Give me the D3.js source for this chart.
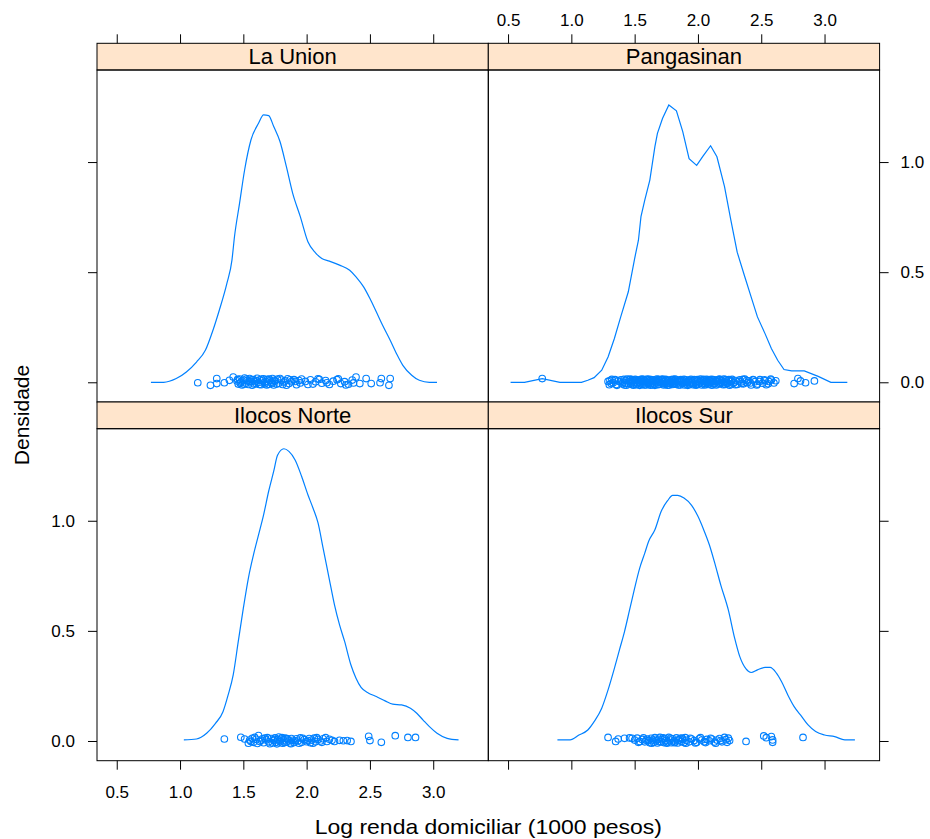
<!DOCTYPE html>
<html>
<head>
<meta charset="utf-8">
<script src="https://cdn.jsdelivr.net/npm/d3@7"></script>
<style>
body{margin:0;background:#fff;}
text{font-family:"Liberation Sans",Arial,sans-serif;fill:#000;}
</style>
</head>
<body>
<script>
// panel names, lattice order (top-left, top-right, bottom-left, bottom-right)
const panelNames=["La Union","Pangasinan","Ilocos Norte","Ilocos Sur"];
const xTicks=[0.5,1.0,1.5,2.0,2.5,3.0];
const yTicks=[0.0,0.5,1.0];

// density curves: [log income, density]
const laUnionDens=[[0.77,0.0],[0.87,0.0],[0.97,0.017],[1.05,0.047],[1.13,0.092],[1.20,0.145],[1.26,0.236],[1.31,0.327],[1.37,0.449],[1.41,0.555],[1.43,0.661],[1.47,0.812],[1.51,0.964],[1.56,1.100],[1.62,1.176],[1.66,1.214],[1.70,1.211],[1.74,1.161],[1.79,1.092],[1.84,0.979],[1.89,0.858],[1.95,0.752],[2.01,0.638],[2.07,0.588],[2.12,0.562],[2.18,0.550],[2.26,0.532],[2.34,0.509],[2.39,0.479],[2.45,0.433],[2.50,0.380],[2.55,0.320],[2.60,0.259],[2.66,0.191],[2.71,0.130],[2.76,0.077],[2.83,0.032],[2.89,0.009],[2.97,0.0],[3.03,0.0]];
const pangasinanDens=[[0.52,0.0],[0.63,0.0],[0.77,0.017],[0.91,0.0],[1.08,0.0],[1.13,0.009],[1.18,0.021],[1.24,0.055],[1.29,0.115],[1.34,0.199],[1.39,0.297],[1.45,0.411],[1.50,0.562],[1.53,0.645],[1.55,0.752],[1.58,0.827],[1.62,0.918],[1.66,1.070],[1.68,1.130],[1.72,1.198],[1.77,1.259],[1.83,1.233],[1.88,1.138],[1.93,1.015],[1.99,0.985],[2.04,1.027],[2.10,1.074],[2.15,1.024],[2.21,0.888],[2.26,0.736],[2.31,0.591],[2.37,0.479],[2.42,0.388],[2.47,0.297],[2.53,0.221],[2.58,0.153],[2.63,0.100],[2.68,0.058],[2.74,0.052],[2.84,0.052],[2.95,0.027],[3.05,0.0],[3.18,0.0]];
const ilocosNorteDens=[[1.03,0.005],[1.13,0.009],[1.21,0.035],[1.28,0.080],[1.34,0.134],[1.38,0.209],[1.42,0.300],[1.46,0.452],[1.50,0.603],[1.54,0.740],[1.58,0.845],[1.62,0.936],[1.66,1.027],[1.70,1.134],[1.74,1.225],[1.77,1.297],[1.82,1.327],[1.86,1.315],[1.91,1.275],[1.96,1.202],[2.01,1.118],[2.05,1.058],[2.09,0.990],[2.13,0.876],[2.18,0.732],[2.22,0.618],[2.26,0.527],[2.30,0.452],[2.35,0.345],[2.39,0.285],[2.43,0.243],[2.49,0.217],[2.55,0.202],[2.62,0.182],[2.68,0.167],[2.75,0.164],[2.82,0.149],[2.87,0.126],[2.92,0.095],[2.97,0.065],[3.03,0.035],[3.11,0.012],[3.20,0.005]];
const ilocosSurDens=[[0.89,0.005],[0.99,0.005],[1.06,0.027],[1.13,0.050],[1.18,0.088],[1.24,0.149],[1.29,0.232],[1.34,0.330],[1.38,0.414],[1.42,0.497],[1.46,0.595],[1.50,0.694],[1.54,0.785],[1.58,0.853],[1.61,0.906],[1.66,0.959],[1.71,1.043],[1.76,1.091],[1.80,1.115],[1.84,1.115],[1.89,1.103],[1.95,1.070],[2.00,1.020],[2.04,0.967],[2.09,0.891],[2.14,0.793],[2.18,0.709],[2.24,0.595],[2.29,0.467],[2.33,0.384],[2.38,0.327],[2.42,0.311],[2.47,0.323],[2.53,0.334],[2.57,0.334],[2.62,0.308],[2.66,0.270],[2.71,0.209],[2.76,0.156],[2.82,0.111],[2.87,0.073],[2.93,0.043],[3.00,0.027],[3.08,0.020],[3.16,0.005],[3.24,0.005]];

// observed households: [log income, vertical jitter]
const laUnionPts=[[1.14,-0.002],[1.24,-0.014],[1.29,-0.006],[1.29,0.017],[1.35,-0.002],[1.39,0.009],[1.42,0.024],
[1.45,0.006],[1.46,-0.008],[1.47,0.015],[1.48,0.001],[1.49,-0.012],[1.50,0.010],[1.51,0.019],[1.52,-0.004],[1.53,0.008],[1.54,-0.010],[1.55,0.017],[1.56,0.002],[1.57,-0.013],[1.58,0.012],[1.59,0.004],[1.60,-0.006],[1.61,0.018],[1.62,-0.001],[1.63,0.011],[1.64,-0.011],[1.65,0.007],[1.66,0.016],[1.67,-0.007],[1.68,0.003],[1.69,0.013],[1.70,-0.009],[1.71,0.009],[1.72,0.000],[1.73,0.017],[1.74,-0.012],[1.75,0.005],[1.77,0.014],[1.78,-0.004],[1.80,0.010],[1.81,-0.010],[1.83,0.006],[1.85,0.016],[1.86,-0.006],[1.88,0.003],[1.90,0.012],[1.92,-0.011],[1.94,0.008],[1.95,-0.003],
[1.99,0.004],[2.03,0.011],[2.05,-0.008],[2.07,0.002],[2.10,0.013],[2.12,-0.004],[2.15,0.008],[2.18,-0.010],[2.21,0.005],[2.24,0.012],[2.27,-0.006],[2.30,0.003],[2.33,-0.009],[2.36,0.010],
[2.39,0.024],[2.42,-0.006],[2.47,0.017],[2.51,-0.006],[2.58,-0.002],[2.59,0.017],[2.65,-0.014],[2.66,0.017],
[1.455,0.013],[1.475,-0.004],[1.505,-0.009],[1.525,0.015],[1.545,0.004],[1.565,0.011],[1.585,-0.008],[1.605,0.007],[1.625,-0.010],[1.645,0.014],
[1.665,0.000],[1.685,-0.012],[1.705,0.015],[1.725,-0.005],[1.745,0.009],[1.765,-0.008],[1.79,0.017],[1.82,0.001],[1.84,-0.013],[1.87,0.011],
[1.91,0.004],[1.96,0.015],[2.01,-0.010],[2.09,0.016],[2.16,-0.002],[2.25,0.016],[2.31,-0.012],[2.37,-0.003]];
const pangasinanPts=[[0.77,0.017],
[1.29,0.004],[1.30,-0.011],[1.32,0.013],[1.33,-0.002],[1.35,0.009],[1.36,-0.014],[1.37,0.006],[1.39,0.011],[1.40,-0.007],[1.41,0.001],
[1.42,-0.012],[1.43,0.008],[1.44,0.014],[1.45,-0.005],[1.46,0.003],[1.47,-0.009],[1.48,0.012],[1.49,-0.013],[1.50,0.007],[1.50,-0.001],
[1.51,0.010],[1.52,-0.006],[1.53,0.002],[1.54,-0.014],[1.54,0.011],[1.55,0.005],[1.56,-0.010],[1.57,0.013],[1.57,-0.003],[1.58,0.008],
[1.59,-0.012],[1.60,0.000],[1.60,0.014],[1.61,-0.008],[1.62,0.006],[1.63,-0.004],[1.63,0.012],[1.64,-0.011],[1.65,0.003],[1.66,0.009],
[1.66,-0.014],[1.67,0.007],[1.68,-0.002],[1.69,0.013],[1.69,-0.009],[1.70,0.001],[1.71,0.010],[1.72,-0.006],[1.72,0.015],[1.73,-0.012],
[1.74,0.004],[1.75,-0.001],[1.75,0.011],[1.76,-0.013],[1.77,0.008],[1.78,-0.005],[1.78,0.002],[1.79,0.012],[1.80,-0.010],[1.81,0.006],
[1.81,-0.003],[1.82,0.014],[1.83,-0.008],[1.84,0.001],[1.85,0.009],[1.86,-0.012],[1.87,0.005],[1.88,-0.002],[1.89,0.013],[1.90,-0.007],
[1.91,0.003],[1.92,-0.014],[1.93,0.010],[1.94,-0.004],[1.95,0.007],[1.96,-0.011],[1.97,0.012],[1.98,0.000],[1.99,-0.009],[2.00,0.006],
[2.01,-0.003],[2.02,0.014],[2.03,-0.012],[2.04,0.004],[2.05,0.011],[2.06,-0.006],[2.06,0.001],[2.07,0.013],[2.08,-0.010],[2.09,0.008],
[2.09,-0.002],[2.10,0.005],[2.11,-0.013],[2.12,0.012],[2.13,-0.005],[2.14,0.003],[2.15,0.010],[2.16,-0.008],[2.17,0.014],[2.18,-0.001],
[2.19,0.007],[2.20,-0.011],[2.21,0.002],[2.22,0.012],[2.23,-0.006],[2.24,0.009],[2.25,-0.013],[2.26,0.004],[2.27,0.013],[2.28,-0.004],
[2.30,0.008],[2.31,-0.010],[2.33,0.011],[2.34,0.001],[2.36,-0.007],[2.37,0.014],[2.39,-0.002],[2.40,0.006],[2.42,-0.012],[2.44,0.010],
[2.45,0.003],[2.47,-0.008],[2.49,0.012],[2.51,-0.004],[2.53,0.007],[2.54,-0.011],[2.56,0.004],[2.58,0.010],[2.60,-0.003],
[2.76,-0.006],[2.79,0.017],[2.81,0.006],[2.85,-0.002],[2.92,0.006],
[1.305,0.008],[1.315,-0.006],[1.345,0.012],[1.355,-0.010],[1.385,0.002],[1.415,0.013],[1.425,-0.004],[1.435,-0.013],[1.455,0.010],[1.465,0.014],
[1.475,-0.002],[1.485,0.006],[1.495,-0.008],[1.505,0.013],[1.515,-0.011],[1.525,0.009],[1.535,0.000],[1.545,-0.006],[1.555,0.014],[1.565,0.004],
[1.575,-0.012],[1.585,0.001],[1.595,0.010],[1.605,-0.004],[1.615,0.013],[1.625,-0.013],[1.635,0.003],[1.645,0.011],[1.655,-0.007],[1.665,0.002],
[1.675,0.014],[1.685,-0.011],[1.695,0.006],[1.705,-0.003],[1.715,0.012],[1.725,0.002],[1.735,-0.008],[1.745,0.013],[1.755,-0.005],[1.765,0.009],
[1.775,-0.012],[1.785,0.005],[1.795,-0.001],[1.805,0.013],[1.815,-0.008],[1.825,0.002],[1.835,0.010],[1.845,-0.012],[1.855,0.004],[1.865,0.012],
[1.875,-0.006],[1.885,0.008],[1.895,-0.012],[1.905,0.011],[1.915,-0.002],[1.925,0.006],[1.935,-0.010],[1.945,0.013],[1.955,0.001],[1.965,-0.006],
[1.975,0.009],[1.985,-0.013],[1.995,0.012],[2.005,-0.008],[2.015,0.003],[2.025,0.009],[2.035,-0.005],[2.045,0.013],[2.055,-0.012],[2.065,0.006],
[2.075,-0.002],[2.085,0.011],[2.095,-0.007],[2.105,0.013],[2.115,0.002],[2.125,-0.009],[2.135,0.010],[2.145,-0.012],[2.155,0.004],[2.165,0.012],
[2.175,-0.006],[2.185,0.009],[2.195,-0.003],[2.205,0.014],[2.215,-0.010],[2.225,0.005],[2.235,-0.002],[2.245,0.012],[2.255,-0.008],[2.265,0.008],
[2.285,0.000],[2.295,-0.011],[2.325,0.004],[2.345,-0.006],[2.355,0.013],[2.385,0.008],[2.415,-0.003],[2.435,0.012],[2.465,-0.012],[2.485,0.004],
[2.525,0.011],[2.555,-0.007],[2.575,0.014],[2.615,0.007]];
const ilocosNortePts=[[1.35,0.009],[1.48,0.017],[1.51,0.009],[1.54,-0.010],[1.55,0.004],[1.57,0.012],[1.58,-0.006],[1.60,0.008],[1.62,0.025],[1.63,-0.002],
[1.65,0.010],[1.66,-0.008],[1.68,0.005],[1.69,0.015],[1.70,-0.004],[1.72,0.011],[1.73,-0.009],[1.74,0.002],[1.75,0.014],[1.76,-0.006],
[1.77,0.007],[1.78,0.018],[1.79,-0.003],[1.80,0.009],[1.81,-0.010],[1.82,0.004],[1.83,0.013],[1.84,-0.005],[1.85,0.008],[1.86,0.001],
[1.87,-0.009],[1.88,0.011],[1.89,0.003],[1.90,-0.007],[1.92,0.010],[1.93,0.000],[1.95,0.014],[1.96,-0.006],[1.98,0.006],[2.00,-0.003],
[2.02,0.011],[2.03,-0.008],[2.04,0.004],[2.06,0.013],[2.07,-0.004],[2.09,0.007],[2.11,0.000],[2.13,0.010],[2.15,0.015],[2.16,-0.002],
[2.18,0.008],[2.20,0.003],[2.22,-0.002],[2.26,0.003],[2.29,0.001],[2.32,0.002],[2.35,-0.002],[2.49,0.021],[2.50,0.002],[2.59,-0.006],
[2.70,0.024],[2.80,0.016],[2.86,0.016],
[1.56,-0.002],[1.59,0.016],[1.61,-0.011],[1.64,0.003],[1.67,0.013],[1.71,-0.012],[1.745,0.007],[1.765,-0.013],[1.785,0.003],[1.805,0.015],
[1.825,-0.007],[1.845,0.011],[1.875,-0.012],[1.91,0.001],[1.94,-0.010],[1.97,0.012],[2.01,0.002],[2.05,-0.010],[2.08,0.015],[2.12,-0.006]];
const ilocosSurPts=[[1.29,0.016],[1.35,-0.002],[1.37,0.009],[1.42,0.012],[1.46,0.014],[1.48,0.012],[1.50,0.004],[1.52,0.013],[1.54,-0.002],[1.56,0.007],
[1.57,0.014],[1.58,-0.004],[1.60,0.009],[1.61,0.002],[1.62,-0.008],[1.63,0.012],[1.64,0.004],[1.65,-0.006],[1.66,0.015],[1.67,0.001],
[1.68,-0.009],[1.69,0.008],[1.70,0.016],[1.71,-0.003],[1.72,0.006],[1.73,-0.007],[1.74,0.011],[1.75,0.002],[1.76,-0.005],[1.77,0.016],
[1.78,0.004],[1.79,-0.008],[1.80,0.010],[1.81,0.001],[1.82,-0.004],[1.83,0.014],[1.84,-0.009],[1.85,0.006],[1.86,0.012],[1.87,-0.002],
[1.88,0.008],[1.89,-0.007],[1.90,0.015],[1.91,0.003],[1.93,-0.004],[1.95,0.009],[1.97,0.002],[1.99,-0.006],[2.01,0.010],[2.03,0.004],
[2.05,-0.003],[2.07,0.007],[2.09,0.001],[2.11,0.009],[2.13,-0.005],[2.15,0.004],[2.17,0.011],[2.19,-0.004],[2.21,0.016],[2.22,0.006],
[2.23,-0.006],[2.25,0.002],[2.38,-0.002],[2.52,0.023],[2.54,0.015],[2.58,0.020],[2.59,0.005],[2.59,-0.006],[2.83,0.016],
[1.53,-0.006],[1.59,0.003],[1.635,-0.010],[1.665,0.008],[1.695,-0.004],[1.725,0.014],[1.755,-0.010],[1.785,0.012],[1.815,-0.008],[1.845,0.003],
[1.875,0.013],[1.905,-0.010],[1.94,0.012],[1.98,-0.009],[2.02,0.015],[2.06,-0.007],[2.10,0.012],[2.14,-0.010],[2.18,0.002],[2.24,0.013]];

const densities=[laUnionDens,pangasinanDens,ilocosNorteDens,ilocosSurDens];
const points=[laUnionPts,pangasinanPts,ilocosNortePts,ilocosSurPts];

// layout
const W=930,H=839;
const marginLeft=97,marginTop=43.3,panelW=391.3,panelH=332,stripH=26.7;
const blue="#0080ff";

const svg=d3.select("body").append("svg").attr("width",W).attr("height",H);

const x=d3.scaleLinear().domain([0.344,3.435]).range([0,panelW]);
const y=d3.scaleLinear().domain([-0.0895,1.418]).range([panelH,0]);

// Pangasinan's curve is visibly angular in the original, the others smooth
const smoothLine=d3.line().x(d=>x(d[0])).y(d=>y(d[1])).curve(d3.curveMonotoneX);
const sharpLine=d3.line().x(d=>x(d[0])).y(d=>y(d[1]));

panelNames.forEach((name,i)=>{
  const col=i%2,row=Math.floor(i/2);
  const px=marginLeft+col*panelW;
  const py=marginTop+row*(stripH+panelH);

  const g=svg.append("g").attr("transform","translate("+px+","+py+")");

  // strip
  g.append("rect").attr("width",panelW).attr("height",stripH)
    .attr("fill","#ffe5cc").attr("stroke","#000").attr("stroke-width",1);
  g.append("text").attr("x",panelW/2).attr("y",stripH/2+7.8)
    .attr("text-anchor","middle").attr("font-size",22).text(name);

  const p=g.append("g").attr("transform","translate(0,"+stripH+")");

  p.append("path").datum(densities[i]).attr("d",i===1?sharpLine:smoothLine)
    .attr("fill","none").attr("stroke",blue).attr("stroke-width",1.2);

  p.selectAll("circle").data(points[i]).enter().append("circle")
    .attr("cx",d=>x(d[0])).attr("cy",d=>y(d[1]))
    .attr("r",3.3).attr("fill","none").attr("stroke",blue).attr("stroke-width",1.1);

  p.append("rect").attr("width",panelW).attr("height",panelH)
    .attr("fill","none").attr("stroke","#000").attr("stroke-width",1);

  // axes: lattice alternates labels between sides
  if(row===0){
    const ax=d3.axisTop(x).tickValues(xTicks).tickSize(9).tickPadding(8)
      .tickFormat(col===1?d3.format(".1f"):()=>"");
    g.append("g").attr("class","axis").call(ax);
  } else {
    const ax=d3.axisBottom(x).tickValues(xTicks).tickSize(9).tickPadding(16)
      .tickFormat(col===0?d3.format(".1f"):()=>"");
    p.append("g").attr("class","axis").attr("transform","translate(0,"+panelH+")").call(ax);
  }
  if(col===0){
    const ay=d3.axisLeft(y).tickValues(yTicks).tickSize(9).tickPadding(13)
      .tickFormat(row===1?d3.format(".1f"):()=>"");
    p.append("g").attr("class","axis").call(ay);
  } else {
    const ay=d3.axisRight(y).tickValues(yTicks).tickSize(9).tickPadding(12)
      .tickFormat(row===0?d3.format(".1f"):()=>"");
    p.append("g").attr("class","axis").attr("transform","translate("+panelW+",0)").call(ay);
  }
});

svg.selectAll(".axis .domain").remove();
svg.selectAll(".axis line").attr("stroke","#000");
svg.selectAll(".axis text").attr("font-size",17)
  .attr("font-family","'Liberation Sans',Arial,sans-serif").attr("fill","#000");

// axis titles
svg.append("text").attr("x",marginLeft+panelW).attr("y",834)
  .attr("text-anchor","middle").attr("font-size",21)
  .attr("textLength",347).attr("lengthAdjust","spacingAndGlyphs")
  .text("Log renda domiciliar (1000 pesos)");
svg.append("text").attr("transform","translate(29,415) rotate(-90)")
  .attr("text-anchor","middle").attr("font-size",21).text("Densidade");
</script>
</body>
</html>
